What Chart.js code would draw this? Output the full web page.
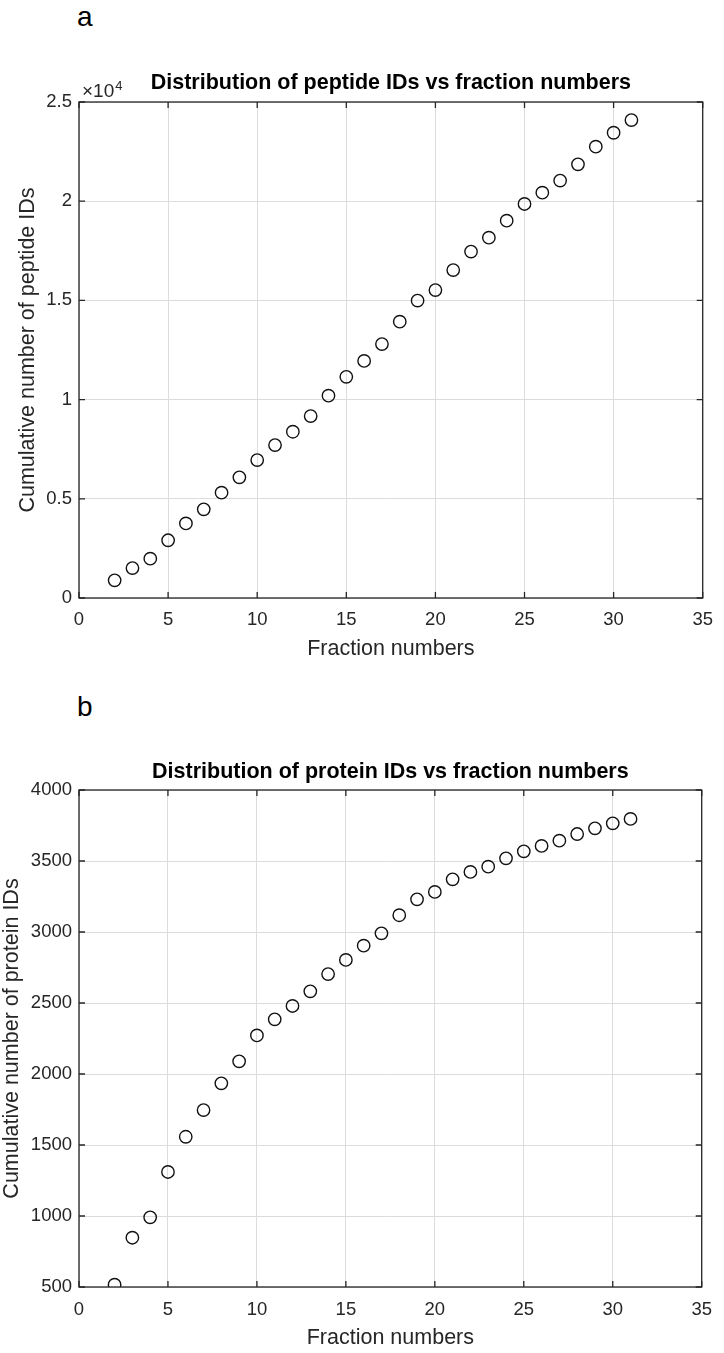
<!DOCTYPE html>
<html>
<head>
<meta charset="utf-8">
<script src="https://cdn.jsdelivr.net/npm/chart.js@4/dist/chart.umd.min.js"></script>
<style>
html,body{margin:0;padding:0;background:#fff;}
#wrap{position:relative;width:724px;height:1353px;overflow:hidden;font-family:"Liberation Sans",Arial,sans-serif;}
.panel{position:absolute;left:77px;font-size:28px;line-height:28px;color:#000;}
canvas{position:absolute;left:0;}
</style>
</head>
<body>
<div id="wrap">
  <div class="panel" style="top:3px">a</div>
  <div class="panel" style="top:693px">b</div>
  <canvas id="cA" width="724" height="640" style="top:40px"></canvas>
  <canvas id="cB" width="724" height="633" style="top:720px"></canvas>
</div>
<script>
// ---- data ----
const fractions = [2,3,4,5,6,7,8,9,10,11,12,13,14,15,16,17,18,19,20,21,22,23,24,25,26,27,28,29,30,31];
const peptideIDs = [890,1510,1980,2910,3760,4470,5310,6080,6950,7710,8380,9170,10200,11150,11950,12800,13930,14990,15520,16530,17460,18160,19020,19860,20430,21040,21860,22750,23450,24090];
const proteinIDs = [516,847,991,1310,1558,1746,1934,2089,2272,2385,2479,2582,2704,2803,2904,2991,3118,3230,3282,3371,3423,3460,3519,3568,3606,3643,3690,3730,3765,3796];
const xTickValues = [0,5,10,15,20,25,30,35];
const peptideTickValues = [0,5000,10000,15000,20000,25000];
const proteinTickValues = [500,1000,1500,2000,2500,3000,3500,4000];
const titleA = 'Distribution of peptide IDs vs fraction numbers';
const titleB = 'Distribution of protein IDs vs fraction numbers';
const yLabelA = 'Cumulative number of peptide IDs';
const yLabelB = 'Cumulative number of protein IDs';
const xLabel = 'Fraction numbers';

const FAM = '"Liberation Sans", Arial, Helvetica, sans-serif';
const AXC = '#262626';

const framePlugin = {
  id: 'frame',
  afterDraw(chart, args, opts) {
    const {ctx, chartArea: {left, right, top, bottom}, scales: {x, y}} = chart;
    ctx.save();
    ctx.strokeStyle = AXC;
    ctx.lineWidth = 1.3;
    ctx.strokeRect(left, top, right - left, bottom - top);
    const L = 6;
    ctx.beginPath();
    x.ticks.forEach(t => {
      const px = x.getPixelForValue(t.value);
      ctx.moveTo(px, bottom); ctx.lineTo(px, bottom - L);
      ctx.moveTo(px, top); ctx.lineTo(px, top + L);
    });
    y.ticks.forEach(t => {
      const py = y.getPixelForValue(t.value);
      ctx.moveTo(left, py); ctx.lineTo(left + L, py);
      ctx.moveTo(right, py); ctx.lineTo(right - L, py);
    });
    ctx.stroke();
    if (opts && opts.exponent) {
      ctx.fillStyle = AXC;
      ctx.textBaseline = 'alphabetic';
      ctx.textAlign = 'left';
      ctx.font = '19px ' + FAM;
      const base = '\u00d710';
      ctx.fillText(base, left + 3, top - 5);
      const w = ctx.measureText(base).width;
      ctx.font = '13px ' + FAM;
      ctx.fillText(opts.exponent, left + 3 + w + 1, top - 12);
    }
    ctx.restore();
  }
};

function makeChart(id, cfg) {
  return new Chart(document.getElementById(id), {
    type: 'scatter',
    data: {
      datasets: [{
        data: fractions.map((f, i) => ({x: f, y: cfg.values[i]})),
        pointStyle: 'circle',
        pointRadius: 6.2,
        pointHoverRadius: 6.2,
        pointBorderWidth: 1.4,
        pointBorderColor: '#111',
        pointBackgroundColor: 'rgba(0,0,0,0)',
        showLine: false
      }]
    },
    options: {
      responsive: false,
      animation: false,
      devicePixelRatio: 1,
      layout: {padding: {left: 0, right: 15, top: 0, bottom: 0}},
      plugins: {
        legend: {display: false},
        tooltip: {enabled: false},
        title: {
          display: true,
          text: cfg.title,
          fullSize: false,
          color: '#000',
          font: {size: 21.5, weight: 'bold', family: FAM, lineHeight: 1},
          padding: {top: cfg.titlePadTop, bottom: cfg.titlePadBottom}
        },
        frame: {exponent: cfg.exponent}
      },
      scales: {
        x: {
          type: 'linear',
          min: 0, max: 35,
          afterBuildTicks: s => { s.ticks = xTickValues.map(v => ({value: v})); },
          afterFit: s => { s.height = cfg.xHeight; },
          grid: {color: '#dcdcdc', lineWidth: 1, drawTicks: false},
          border: {display: false},
          ticks: {color: AXC, padding: cfg.xTickPad, font: {size: 18.5, family: FAM}, maxRotation: 0},
          title: {display: true, text: xLabel, color: AXC,
                  font: {size: 21.5, family: FAM, lineHeight: 1},
                  padding: {top: 0, bottom: cfg.xTitlePad}}
        },
        y: {
          type: 'linear',
          min: cfg.yMin, max: cfg.yMax,
          afterBuildTicks: s => { s.ticks = cfg.yTicks.map(v => ({value: v})); },
          afterFit: s => { s.width = 79; },
          grid: {color: '#dcdcdc', lineWidth: 1, drawTicks: false},
          border: {display: false},
          ticks: {color: AXC, padding: 7, font: {size: 18.5, family: FAM},
                  callback: cfg.yFormat},
          title: {display: true, text: cfg.yLabel, color: AXC,
                  font: {size: 21.5, family: FAM, lineHeight: 1},
                  padding: {top: cfg.yTitlePad, bottom: 0}}
        }
      }
    },
    plugins: [framePlugin]
  });
}

makeChart('cA', {
  values: peptideIDs, title: titleA, yLabel: yLabelA,
  yMin: 0, yMax: 25000, yTicks: peptideTickValues,
  yFormat: v => String(v / 10000),
  exponent: '4',
  titlePadTop: 32.25, titlePadBottom: 8.25,
  xHeight: 82, xTickPad: 11, xTitlePad: 19.75, yTitlePad: 17
});

makeChart('cB', {
  values: proteinIDs, title: titleB, yLabel: yLabelB,
  yMin: 500, yMax: 4000, yTicks: proteinTickValues,
  yFormat: v => String(v),
  exponent: null,
  titlePadTop: 41.75, titlePadBottom: 6.75,
  xHeight: 66, xTickPad: 12, xTitlePad: 4.25, yTitlePad: 1.25
});
</script>
</body>
</html>
